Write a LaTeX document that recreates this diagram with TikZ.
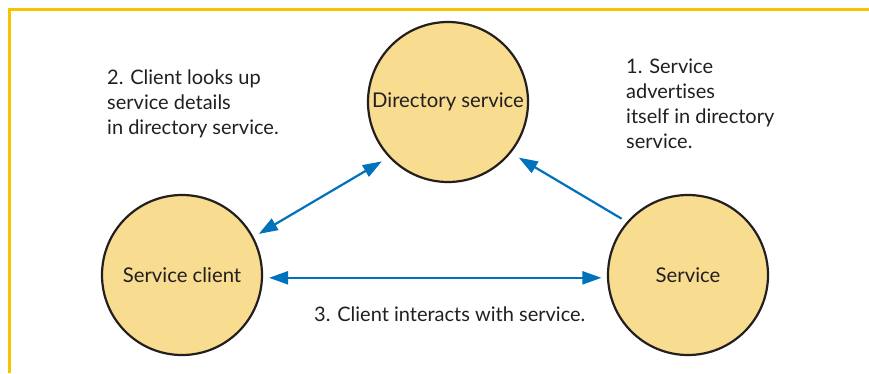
\documentclass[tikz,border=0pt]{standalone}
\usepackage{fontspec}
\setmainfont[Ligatures={NoCommon,NoRare,NoContextual}]{Lato}
\usetikzlibrary{arrows.meta}
\definecolor{frameyellow}{RGB}{245,196,0}
\definecolor{circfill}{RGB}{248,220,143}
\definecolor{inkdark}{RGB}{35,31,32}
\definecolor{arrowblue}{RGB}{0,114,188}
\tikzset{
  circ/.style={circle, draw=inkdark, fill=circfill, line width=2.2pt, minimum size=160pt, inner sep=0pt, text=inkdark, font=\fontsize{20.3}{24.5}\selectfont},
  arr/.style={draw=arrowblue, line width=2.2pt, arrows={-}, >={Triangle[length=19pt,width=13pt]}},
  lbl/.style={inner sep=0pt, align=left, text=inkdark, font=\fontsize{20}{25}\selectfont},
  framestyle/.style={draw=frameyellow, line width=2.6pt}
}
\begin{document}
\begin{tikzpicture}[x=1pt,y=-1pt]
\useasboundingbox (0,0) rectangle (869,373);
\fill[white] (0,0) rectangle (869,373);
\coordinate (fbl) at (9.5,373);
\coordinate (ftl) at (9.5,9.5);
\coordinate (ftr) at (869,9.5);
\draw[framestyle] (fbl) -- (ftl) -- (ftr);
\node[circ] (dir) at (448,102) {Directory service};
\node[circ] (cli) at (182,275) {Service client};
\node[circ] (srv) at (688,275) {Service};
\draw[arr,<->,shorten <=6pt,shorten >=8pt] (cli.28) -- (dir.223);
\draw[arr,->,shorten <=6pt,shorten >=9pt] (srv.139) -- (dir.-39);
\draw[arr,<->,shorten <=6pt,shorten >=5.5pt] (cli.-2) -- (srv.182);
\node[lbl,anchor=base west] (t2) at (107,134) {2. Client looks up\\service details\\in directory service.};
\node[lbl,anchor=base west] (t1) at (626,148) {1. Service\\adver\kern0pt tises\\itself in directory\\service.};
\node[lbl,anchor=base west] (t3) at (314,321) {3. Client interacts with service.};
\end{tikzpicture}
\end{document}
